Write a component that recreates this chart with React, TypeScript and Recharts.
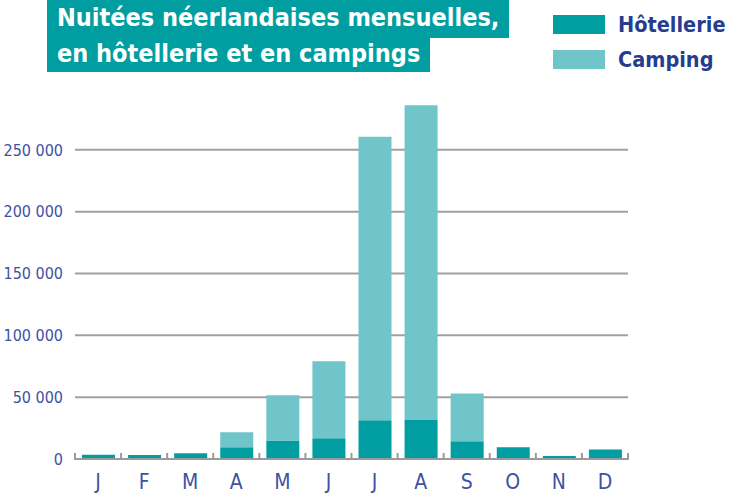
import React from 'react';
import { BarChart, Bar, XAxis, YAxis, CartesianGrid } from 'recharts';

const months = ['J', 'F', 'M', 'A', 'M', 'J', 'J', 'A', 'S', 'O', 'N', 'D'];
const hotellerie = [3500, 3200, 4600, 9500, 14900, 16800, 31400, 31600, 14300, 9500, 2400, 7600];
const camping = [0, 0, 0, 12100, 36700, 62200, 229100, 254400, 38700, 0, 0, 0];
const yTicks = [0, 50000, 100000, 150000, 200000, 250000];

const HOTEL = '#009ea0';
const CAMP = '#6fc5c9';
const BLUE = '#3d52a3';
const NAVY = '#263d8f';
const FONT = '"DejaVu Sans Condensed", "Liberation Sans Narrow", sans-serif';

const data = months.map((m, i) => ({ month: m, hotel: hotellerie[i], camping: camping[i] }));

const W = 729;
const H = 495;
const xAxisHeight = 30;
const margin = { top: 88, right: 101, bottom: 36 - xAxisHeight, left: 0 };
const yAxisWidth = 75;
const band = (W - margin.right - yAxisWidth) / months.length;

function MonthTick(props: any) {
  const { x, y, payload, index } = props;
  return (
    <g>
      <line x1={x - band / 2} x2={x - band / 2} y1={y - 14} y2={y - 7} stroke="#9a9a9a" strokeWidth={2} />
      {index === months.length - 1 && (
        <line x1={x + band / 2} x2={x + band / 2} y1={y - 14} y2={y - 7} stroke="#9a9a9a" strokeWidth={2} />
      )}
      <text x={x} y={y + 22} textAnchor="middle" fill={BLUE} fontSize={21} fontFamily={FONT}>
        {payload.value}
      </text>
    </g>
  );
}

const fmt = (v: number) => v.toLocaleString('fr-FR').replace(/\u202f|\u00a0/g, ' ');

const titleBox: React.CSSProperties = {
  background: HOTEL,
  color: '#fff',
  fontWeight: 700,
  fontSize: 25,
  padding: '0 10px',
  display: 'inline-block',
  whiteSpace: 'nowrap',
};

export default function App() {
  return (
    <div style={{ position: 'absolute', left: 0, top: 0, width: W, height: H, background: '#fff', fontFamily: FONT }}>
      <div style={{ position: 'absolute', left: 47, top: 0 }}>
        <div style={{ ...titleBox, height: 38, lineHeight: '36px' }}>Nuitées néerlandaises mensuelles,</div>
        <br />
        <div style={{ ...titleBox, height: 34, lineHeight: '32px' }}>en hôtellerie et en campings</div>
      </div>
      <div style={{ position: 'absolute', left: 553, top: 12, display: 'flex', alignItems: 'center' }}>
        <div style={{ width: 52, height: 19, background: HOTEL }} />
        <span style={{ marginLeft: 13, color: NAVY, fontWeight: 700, fontSize: 21.5 }}>Hôtellerie</span>
      </div>
      <div style={{ position: 'absolute', left: 553, top: 47, display: 'flex', alignItems: 'center' }}>
        <div style={{ width: 52, height: 19, background: CAMP }} />
        <span style={{ marginLeft: 13, color: NAVY, fontWeight: 700, fontSize: 21.5 }}>Camping</span>
      </div>
      <div style={{ position: 'absolute', left: 0, top: 0 }}>
        <BarChart width={W} height={H} data={data} margin={margin} barSize={33}>
          <CartesianGrid vertical={false} horizontalValues={yTicks} stroke="#a0a0a0" strokeWidth={2} />
          <XAxis
            dataKey="month"
            height={xAxisHeight}
            axisLine={{ stroke: '#9a9a9a', strokeWidth: 2 }}
            tickLine={false}
            tick={<MonthTick />}
            interval={0}
          />
          <YAxis
            width={yAxisWidth}
            domain={[0, 300000]}
            ticks={yTicks}
            axisLine={false}
            tickLine={false}
            tickMargin={6}
            tickFormatter={fmt}
            tick={{ fill: BLUE, fontSize: 16, fontFamily: FONT }}
          />
          <Bar dataKey="hotel" stackId="a" fill={HOTEL} isAnimationActive={false} />
          <Bar dataKey="camping" stackId="a" fill={CAMP} isAnimationActive={false} />
        </BarChart>
      </div>
    </div>
  );
}
